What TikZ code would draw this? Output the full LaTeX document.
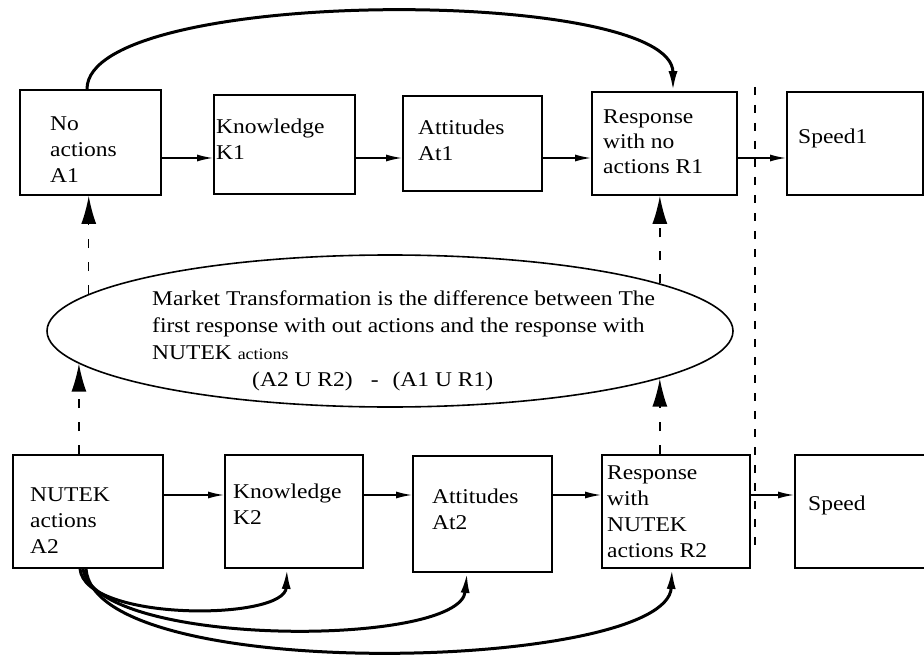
\documentclass[tikz,border=0pt]{standalone}
\usepackage{fontspec}
\setmainfont[FakeStretch=1.12]{Liberation Serif}
\usetikzlibrary{arrows.meta,shapes.geometric}
\begin{document}
\begin{tikzpicture}[x=1pt,y=-1pt,
  stagebox/.style={draw, line width=1.8pt, inner sep=0pt},
  lbl/.style={anchor=west, inner sep=0pt, align=left, font=\fontsize{21}{26}\selectfont},
  harr/.style={line width=1.5pt, -{Latex[length=16pt,width=7pt]}},
  varr/.style={line width=1.5pt, dash pattern=on 9pt off 14pt, -{Latex[length=28pt,width=15pt]}},
  feedarc/.style={line width=3pt, -{Latex[length=20pt,width=9pt]}},
  mysep/.style={line width=1.6pt, dash pattern=on 8pt off 10pt}]
\useasboundingbox (0,0) rectangle (924,658);
\fill[white] (0,0) rectangle (924,658);

% top row
\node[stagebox, minimum width=141pt, minimum height=105pt] (A1) at (90.5,142.5) {};
\node[stagebox, minimum width=141pt, minimum height=99pt] (K1) at (284.5,144.5) {};
\node[stagebox, minimum width=139pt, minimum height=95pt] (At1) at (472.5,143.5) {};
\node[stagebox, minimum width=145pt, minimum height=103pt] (R1) at (664.5,143.5) {};
\node[stagebox, minimum width=136pt, minimum height=103pt] (S1) at (855,143.5) {};
% bottom row
\node[stagebox, minimum width=150pt, minimum height=113pt] (A2) at (88,511.5) {};
\node[stagebox, minimum width=138pt, minimum height=113pt] (K2) at (294,511.5) {};
\node[stagebox, minimum width=139pt, minimum height=116pt] (At2) at (482.5,514) {};
\node[stagebox, minimum width=148pt, minimum height=113pt] (R2) at (676,511.5) {};
\node[stagebox, minimum width=135pt, minimum height=113pt] (S2) at (862.5,511.5) {};

% labels
\node[lbl] (tA1) at (50,150) {No\\actions\\A1};
\node[lbl] (tK1) at (216,139) {Knowledge\\K1};
\node[lbl] (tAt1) at (418,140) {Attitudes\\At1};
\node[lbl, font=\fontsize{21}{25}\selectfont] (tR1) at (603,142) {Response\\with no\\actions R1};
\node[lbl] (tS1) at (798,138) {Speed1};
\node[lbl] (tA2) at (30,521) {NUTEK\\actions\\A2};
\node[lbl] (tK2) at (233,504.5) {Knowledge\\K2};
\node[lbl] (tAt2) at (432,509.5) {Attitudes\\At2};
\node[lbl] (tR2) at (607,512) {Response\\with\\NUTEK\\actions R2};
\node[lbl] (tS2) at (808,505) {Speed};

% ellipse
\node[draw, ellipse, line width=1.6pt, minimum width=686pt, minimum height=152pt, inner sep=0pt] (ell) at (390,331) {};
\node[lbl, font=\fontsize{21}{27}\selectfont] (mt) at (152,341) {Market Transformation is the difference between The\\
first response with out actions and the response with\\
NUTEK {\fontsize{16}{20}\selectfont actions}\\
\hspace*{100pt}(A2 U R2)\hspace{18pt}-\hspace{14pt}(A1 U R1)};

% separator
\coordinate (sepT) at (755,87);
\coordinate (sepB) at (755,553);
\draw[mysep] (sepT) -- (sepB);

% horizontal arrows
\draw[harr] ([yshift=-15.5pt]A1.east) -- ([yshift=-15.5pt]A1.east -| K1.west);
\draw[harr] ([yshift=-13.5pt]K1.east) -- ([yshift=-13.5pt]K1.east -| At1.west);
\draw[harr] ([yshift=-14.5pt]At1.east) -- ([yshift=-14.5pt]At1.east -| R1.west);
\draw[harr] ([yshift=-14.5pt]R1.east) -- ([yshift=-14.5pt]R1.east -| S1.west);
\draw[harr] ([yshift=16.5pt]A2.east) -- ([yshift=16.5pt]A2.east -| K2.west);
\draw[harr] ([yshift=16.5pt]K2.east) -- ([yshift=16.5pt]K2.east -| At2.west);
\draw[harr] ([yshift=19pt]At2.east) -- ([yshift=19pt]At2.east -| R2.west);
\draw[harr] ([yshift=16.5pt]R2.east) -- ([yshift=16.5pt]R2.east -| S2.west);

% vertical dashed arrows through the ellipse
\draw[varr] (ell.173.3) -- (ell.173.3 |- A1.south);
\draw[varr] (ell.186.7 |- A2.north) -- (ell.186.7);
\draw[varr] (ell.10.3) -- (ell.10.3 |- R1.south);
\draw[varr] (ell.-10.3 |- R2.north) -- (ell.-10.3);

% top arc
\draw[feedarc] ([xshift=-3.5pt]A1.north) .. controls +(0,-103) and +(0,-105) .. ([xshift=8.5pt]R1.north);

% bottom arcs
\draw[feedarc] ([xshift=-8pt]A2.south) .. controls +(5,53) and +(-2,52) .. ([xshift=-7pt]K2.south);
\draw[feedarc] ([xshift=-5pt]A2.south) .. controls +(12,79) and +(-7,75) .. ([xshift=-15.5pt]At2.south);
\draw[feedarc] ([xshift=-2pt]A2.south) .. controls +(9,117) and +(-4,102) .. ([xshift=-4pt]R2.south);
\end{tikzpicture}
\end{document}
